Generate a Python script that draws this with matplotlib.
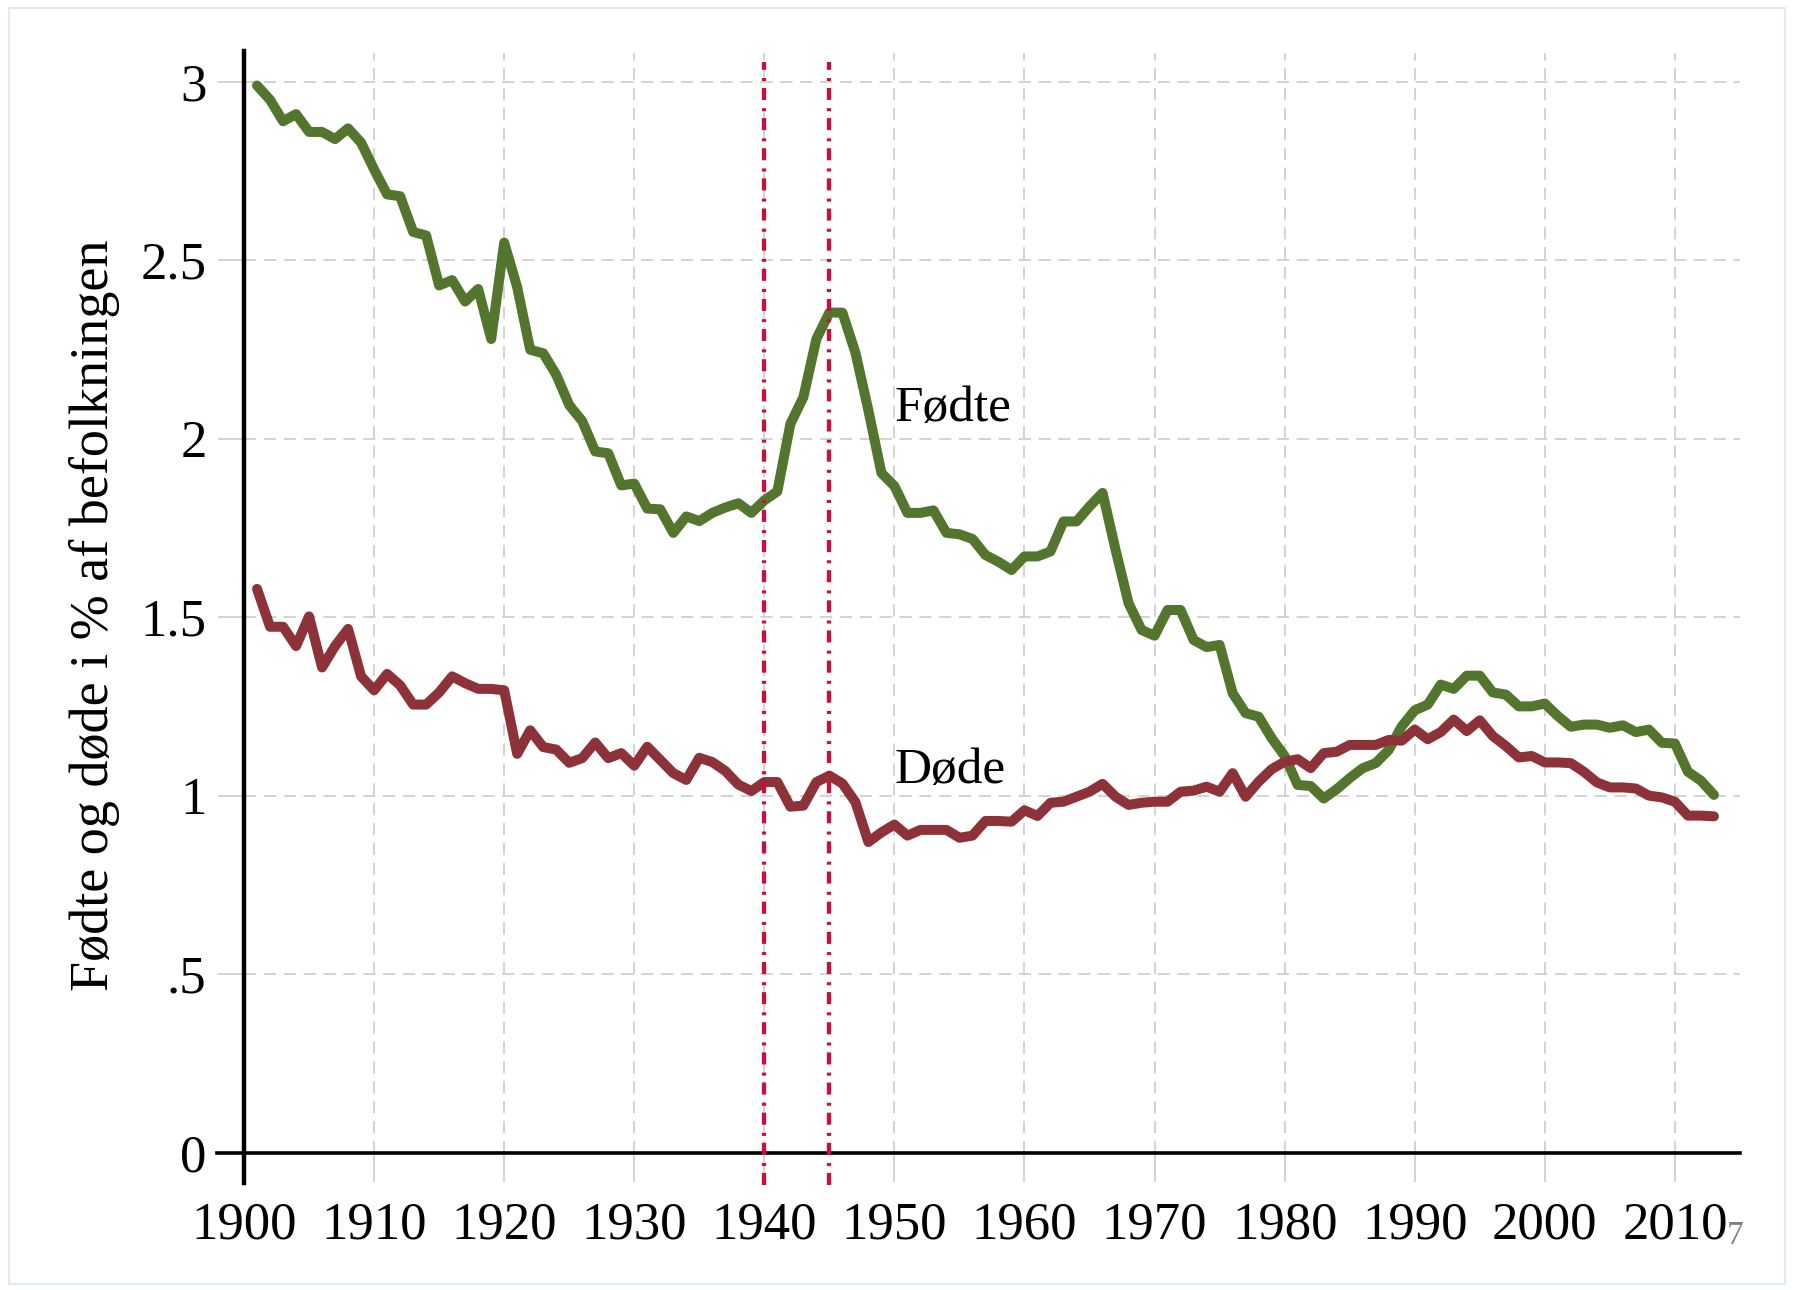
import matplotlib.pyplot as plt
from matplotlib.patches import Rectangle

# Births and deaths in % of the population, Denmark 1901-2013
years = list(range(1901, 2014))
births = [
    2.99, 2.95, 2.89, 2.91, 2.86, 2.86, 2.84, 2.87, 2.83, 2.755,
    2.685, 2.68, 2.58, 2.57, 2.43, 2.445, 2.385, 2.42, 2.28, 2.55,
    2.425, 2.25, 2.24, 2.18, 2.095, 2.05, 1.965, 1.96, 1.87, 1.875,
    1.805, 1.803, 1.737, 1.783, 1.77, 1.793, 1.808, 1.82, 1.793, 1.828,
    1.853, 2.042, 2.117, 2.28, 2.354, 2.354, 2.242, 2.08, 1.905, 1.868,
    1.793, 1.793, 1.80, 1.737, 1.733, 1.72, 1.675, 1.656, 1.633, 1.671,
    1.671, 1.685, 1.769, 1.769, 1.811, 1.849, 1.69, 1.54, 1.465, 1.449,
    1.521, 1.521, 1.437, 1.417, 1.423, 1.288, 1.232, 1.222, 1.162, 1.112,
    1.031, 1.028, 0.993, 1.019, 1.05, 1.078, 1.092, 1.129, 1.195, 1.24,
    1.256, 1.312, 1.30, 1.337, 1.337, 1.29, 1.284, 1.251, 1.251, 1.259,
    1.224, 1.194, 1.20, 1.20, 1.191, 1.198, 1.179, 1.186, 1.149, 1.147,
    1.068, 1.043, 1.003,
]
deaths = [
    1.58, 1.474, 1.474, 1.42, 1.503, 1.36, 1.42, 1.468, 1.335, 1.296,
    1.342, 1.31, 1.256, 1.256, 1.29, 1.335, 1.316, 1.30, 1.30, 1.296,
    1.118, 1.184, 1.137, 1.13, 1.093, 1.106, 1.15, 1.106, 1.12, 1.085,
    1.138, 1.101, 1.064, 1.045, 1.107, 1.095, 1.07, 1.032, 1.014, 1.039,
    1.039, 0.97, 0.973, 1.039, 1.057, 1.035, 0.983, 0.871, 0.898, 0.92,
    0.889, 0.905, 0.905, 0.905, 0.883, 0.889, 0.93, 0.93, 0.928, 0.96,
    0.944, 0.981, 0.984, 0.998, 1.012, 1.034, 0.998, 0.975, 0.981, 0.984,
    0.984, 1.012, 1.015, 1.026, 1.012, 1.064, 0.998, 1.04, 1.075, 1.096,
    1.103, 1.078, 1.12, 1.124, 1.143, 1.143, 1.143, 1.157, 1.155, 1.186,
    1.159, 1.179, 1.214, 1.182, 1.212, 1.168, 1.14, 1.108, 1.112, 1.094,
    1.094, 1.092, 1.068, 1.038, 1.024, 1.024, 1.021, 1.001, 0.996, 0.984,
    0.945, 0.945, 0.943,
]
war_years = [1940, 1945]
labels = {'Fødte': (1950, 2.085), 'Døde': (1950, 1.072)}

xticks = list(range(1900, 2011, 10))
yticks = [0, 0.5, 1, 1.5, 2, 2.5, 3]
ytick_labels = ['0', '.5', '1', '1.5', '2', '2.5', '3']

green = '#54752d'
red = '#8e3239'
crimson = '#c8103c'
gridgray = '#c8c8c8'

plt.rcParams['font.family'] = ['Liberation Serif', 'DejaVu Serif']

fig = plt.figure(figsize=(17.93, 12.90), dpi=100)
ax = fig.add_axes([0.1361, 0.1062, 0.8343, 0.8524])

ax.plot(years, births, color=green, lw=7.2, solid_capstyle='round', solid_joinstyle='round', zorder=3)
ax.plot(years, deaths, color=red, lw=7.2, solid_capstyle='round', solid_joinstyle='round', zorder=3)

for wy in war_years:
    ax.axvline(wy, ymin=-0.029, ymax=0.992, color=crimson, lw=3.1,
               linestyle=(0, (2.8, 1.6, 0.7, 1.9)), clip_on=False, zorder=4)

for txt, (tx, ty) in labels.items():
    ax.text(tx, ty, txt, fontsize=37, ha='left', va='center', zorder=5)

ax.set_xlim(1900, 2015)
ax.set_ylim(0, 3.08)
ax.set_xticks(xticks)
ax.set_yticks(yticks)
ax.set_yticklabels(ytick_labels)

ax.set_axisbelow(True)
ax.grid(True, color=gridgray, linestyle=(0, (8, 5)), linewidth=1.1)

ax.tick_params(axis='x', length=21, width=1.1, color=gridgray, labelsize=38, pad=14)
ax.tick_params(axis='y', length=19, width=1.1, color=gridgray, labelsize=38, pad=8)

for side in ['top', 'right']:
    ax.spines[side].set_visible(False)
ax.spines['left'].set_linewidth(3.2)
ax.spines['bottom'].set_linewidth(2.6)
ax.spines['left'].set_bounds(-0.085, 3.086)
ax.spines['bottom'].set_bounds(1897.9, 2015)

ax.set_ylabel('Fødte og døde i % af befolkningen', fontsize=39)
ax.yaxis.set_label_coords(-0.083, 0.489)

# little page-number artefact next to the last tick label
fig.text(0.963, 0.042, '7', fontsize=24, color='#808080', va='center', ha='left')

# faint frame round the whole picture
fig.patches.append(Rectangle((9 / 1793, 6 / 1290), 1776 / 1793, 1276 / 1290,
                             transform=fig.transFigure, fill=False,
                             edgecolor='#e4ebee', lw=1.5))

fig.savefig('out.png', dpi=100)
